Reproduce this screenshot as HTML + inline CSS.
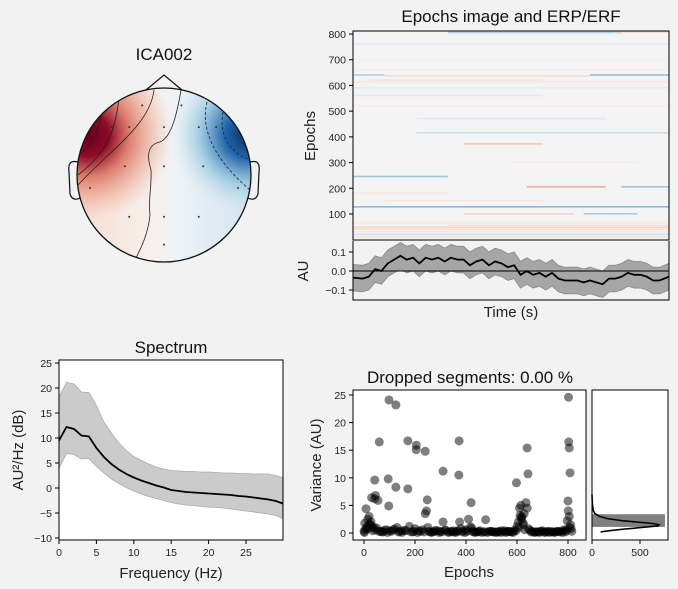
<!DOCTYPE html>
<html><head><meta charset="utf-8"><style>
html,body{margin:0;padding:0;background:#f2f2f2;}
svg{display:block;font-family:"Liberation Sans","DejaVu Sans",sans-serif;}
.t{font-size:10.5px;fill:#222;}
.lab{font-size:15px;fill:#222;}
.ttl{font-size:17px;fill:#111;}
</style></head><body>
<svg id="fig" width="678" height="589" viewBox="0 0 678 589">
<defs>
<clipPath id="headClip"><circle cx="164" cy="175" r="87"/></clipPath>
<linearGradient id="lrGrad" x1="0" y1="0" x2="1" y2="0">
<stop offset="0" stop-color="#f8ddd0"/><stop offset="0.45" stop-color="#f6f0ee"/><stop offset="0.55" stop-color="#eef3f6"/><stop offset="1" stop-color="#cfe2ee"/></linearGradient>
<radialGradient id="redBlob" cx="88" cy="135" r="85" gradientUnits="userSpaceOnUse">
<stop offset="0" stop-color="#67001f"/><stop offset="0.25" stop-color="#8e0a25"/><stop offset="0.5" stop-color="#d6604d" stop-opacity="0.75"/><stop offset="1" stop-color="#f4a582" stop-opacity="0"/></radialGradient>
<radialGradient id="blueBlob" cx="248" cy="135" r="78" gradientUnits="userSpaceOnUse">
<stop offset="0" stop-color="#053061"/><stop offset="0.3" stop-color="#2166ac"/><stop offset="0.65" stop-color="#92c5de" stop-opacity="0.7"/><stop offset="1" stop-color="#d1e5f0" stop-opacity="0"/></radialGradient>
</defs>

<g>
<text class="ttl" x="164" y="60" text-anchor="middle">ICA002</text>
<g clip-path="url(#headClip)">
<rect x="70" y="80" width="190" height="190" fill="url(#lrGrad)"/>
<rect x="70" y="80" width="190" height="190" fill="url(#redBlob)"/>
<rect x="70" y="80" width="190" height="190" fill="url(#blueBlob)"/>
<g fill="none" stroke="#222" stroke-width="0.8">
<path d="M120,92 C115,130 110,150 78,175"/>
<path d="M103,100 C100,130 95,145 78,155"/>
<path d="M93,112 C90,130 85,138 78,142"/>
<path d="M154,90 C150,125 110,150 78,185"/>
<path d="M181,90 C176,120 170,138 160,142 C145,145 148,160 151,170 C152,185 148,200 150,215 C148,235 140,250 135,260"/>
</g>
<g fill="none" stroke="#222" stroke-width="0.8" stroke-dasharray="3,2">
<path d="M207,102 C200,130 215,160 250,190"/>
<path d="M223,112 C218,140 235,155 250,160"/>
</g>
</g>
<circle cx="164" cy="175" r="87" fill="none" stroke="#111" stroke-width="1.3"/>
<path d="M146,90 L164,75 L182,90" fill="none" stroke="#111" stroke-width="1.2"/>
<path d="M78,162 C70,160 68,164 69,172 L70,194 C72,200 76,200 80,198" fill="none" stroke="#111" stroke-width="1.2"/>
<path d="M250,162 C258,160 260,164 259,172 L258,194 C256,200 252,200 248,198" fill="none" stroke="#111" stroke-width="1.2"/>
<g id="sensors" fill="#333"></g>
</g>

<g>
<text class="ttl" x="511" y="22" text-anchor="middle">Epochs image and ERP/ERF</text>
<rect x="353" y="31" width="316" height="209" fill="#f4f4f5"/>
<g id="stripes"></g>
<rect x="353" y="31" width="316" height="209" fill="none" stroke="#000" stroke-width="1"/>
<g id="imgTicks"></g>
<text class="lab" transform="translate(315,136) rotate(-90)" text-anchor="middle">Epochs</text>
</g>

<g>
<rect x="353" y="241" width="316" height="59" fill="#f2f2f2"/>
<path id="erpBand" fill="#a6a6a6" stroke="#888" stroke-width="0.8"/>
<line x1="353" x2="669" y1="271" y2="271" stroke="#000" stroke-width="1"/>
<path id="erpLine" fill="none" stroke="#000" stroke-width="1.8"/>
<path d="M353,241 V300 H669 V241" fill="none" stroke="#000" stroke-width="1"/>
<g id="erpTicks"></g>
<text class="lab" transform="translate(308,271) rotate(-90)" text-anchor="middle">AU</text>
<text class="lab" x="511" y="317" text-anchor="middle">Time (s)</text>
</g>

<g>
<text class="ttl" x="171" y="353" text-anchor="middle">Spectrum</text>
<rect x="59" y="360" width="224" height="180" fill="#fff"/>
<path id="specBand" fill="#cbcbcb" stroke="#aaa" stroke-width="0.8"/>
<path id="specLine" fill="none" stroke="#000" stroke-width="1.8"/>
<rect x="59" y="360" width="224" height="180" fill="none" stroke="#000" stroke-width="1"/>
<g id="specTicks"></g>
<text class="lab" transform="translate(23,450) rotate(-90)" text-anchor="middle">AU²/Hz (dB)</text>
<text class="lab" x="171" y="578" text-anchor="middle">Frequency (Hz)</text>
</g>

<g>
<text class="ttl" x="470" y="383" text-anchor="middle">Dropped segments: 0.00 %</text>
<rect x="353" y="390" width="233" height="150" fill="#fff"/>
<g id="scatter"></g>
<rect x="353" y="390" width="233" height="150" fill="none" stroke="#000" stroke-width="1"/>
<g id="scTicks"></g>
<text class="lab" transform="translate(321,465) rotate(-90)" text-anchor="middle">Variance (AU)</text>
<text class="lab" x="469" y="577" text-anchor="middle">Epochs</text>
<rect x="592" y="390" width="76" height="150" fill="#fff"/>
<g id="hist"></g>
<rect x="592" y="390" width="76" height="150" fill="none" stroke="#000" stroke-width="1"/>
<g id="hTicks"></g>
</g>
</svg>
<script>
const sensorX = [-0.25,0.2,-0.6,-0.4,0.0,0.4,0.6,-0.45,0.0,0.45,-0.85,0.85,-0.4,0.0,0.4,0.0];
const sensorY = [0.8,0.8,0.55,0.55,0.55,0.55,0.55,0.1,0.1,0.1,-0.15,-0.15,-0.48,-0.48,-0.48,-0.8];

const stripeEpoch = [127,100,100,205,205,245,372,415,520,560,612,620,636,640,640,700,760,805,808,40,48,55,20,10,300,470,180,150,30,65,590,660];
const stripeT0 =    [0,0.35,0.73,0.55,0.85,0,0.35,0.2,0,0,0,0.05,0.1,0.75,0,0,0,0.3,0.82,0,0,0.3,0,0,0.5,0.2,0,0.1,0,0,0,0];
const stripeT1 =    [1,0.7,0.9,0.8,1,0.3,0.6,1,1,0.6,1,0.6,0.75,1,0.1,1,1,0.85,1,1,1,1,1,1,0.9,0.8,0.3,0.6,1,1,1,1];
const stripeVal =   [-0.3,0.22,-0.22,0.45,-0.25,-0.25,0.3,-0.13,0.06,-0.06,0.08,0.12,0.18,-0.28,-0.2,0.05,-0.05,-0.2,0.22,0.15,0.2,0.12,-0.1,0.12,0.06,-0.06,0.08,0.08,0.1,0.08,-0.05,0.05];
const imgTickVals = [100,200,300,400,500,600,700,800];

const erpT =    [0,0.03,0.05,0.07,0.09,0.11,0.13,0.15,0.17,0.19,0.21,0.23,0.25,0.27,0.29,0.31,0.33,0.35,0.37,0.39,0.41,0.43,0.45,0.47,0.49,0.51,0.53,0.55,0.57,0.59,0.61,0.63,0.65,0.67,0.69,0.71,0.73,0.75,0.77,0.79,0.81,0.83,0.85,0.87,0.89,0.91,0.93,0.95,0.97,1.0];
const erpMean = [-0.035,-0.04,-0.03,0.01,0.0,0.04,0.06,0.08,0.06,0.07,0.04,0.07,0.06,0.07,0.05,0.07,0.06,0.06,0.03,0.05,0.06,0.03,0.05,0.04,0.02,0.03,-0.02,0.0,-0.02,-0.01,-0.03,-0.01,-0.04,-0.05,-0.05,-0.05,-0.06,-0.05,-0.06,-0.07,-0.04,-0.04,-0.03,-0.01,-0.02,-0.02,-0.03,-0.05,-0.05,-0.03];
const erpHalfWidth = 0.07;
const erpTickVals = [-0.1,0.0,0.1];

const specFreq = [0,1,2,3,4,5,6,7,8,9,10,11,12,13,14,15,16,17,18,19,20,21,22,23,24,25,26,27,28,29,29.9];
const specMean = [9.5,12.2,11.8,10.5,10.3,8,6.2,4.8,3.7,2.8,2.1,1.5,1.0,0.5,0.1,-0.4,-0.6,-0.8,-0.9,-1.0,-1.1,-1.2,-1.3,-1.4,-1.6,-1.7,-1.9,-2.1,-2.3,-2.6,-3.1];
const specUpper = [18.2,21.1,20.8,19.2,19.1,16.5,13.2,11,9,7.5,6.3,5.5,4.8,4.2,3.8,3.5,3.4,3.3,3.3,3.2,3.2,3.1,3.0,3.0,2.9,2.9,2.8,2.8,2.8,2.5,2.1];
const specLower = [3.9,6.9,6.7,5.8,5.9,4.3,3,1.8,0.9,0.1,-0.6,-1.2,-1.7,-2.1,-2.5,-2.9,-3.2,-3.4,-3.5,-3.7,-3.8,-3.9,-4.0,-4.2,-4.4,-4.6,-4.8,-5.0,-5.2,-5.5,-6.1];
const specYTicks = [-10,-5,0,5,10,15,20,25];
const specXTicks = [0,5,10,15,20,25];

const scEpoch = [98,125,60,172,205,205,240,373,310,372,598,640,643,802,803,805,808,42,95,125,172,97,248,420,477,30,42,45,55,8,20,245,240,375,310,610,615,620,635,640,800,801,805,
 0,5,12,18,25,35,50,65,80,100,115,140,160,185,200,215,230,255,270,290,320,340,355,390,400,410,425,440,455,490,510,530,550,570,590,605,625,650,660,680,700,720,740,760,780,795,810,
 3,15,28,38,70,88,130,150,195,260,280,300,330,350,365,380,430,450,470,500,520,540,560,580,600,615,630,670,690,710,730,750,770,790,812,
 2,10,22,32,45,58,75,92,108,120,135,148,165,178,192,210,222,236,250,264,277,295,305,318,332,346,360,368,385,396,405,418,422,436,448,462,475,485,497,505,518,527,537,548,557,566,575,585,596,607,612,618,624,628,645,655,668,677,688,697,708,717,727,738,748,757,768,778,787,797,806,815];
const scVar = [24.1,23.2,16.5,16.7,15.9,15.1,14.8,16.7,11.2,10.5,9.1,15.4,10.7,24.6,16.5,15.4,10.9,9.6,9.8,8.3,8.0,4.9,6.0,5.5,2.4,6.4,6.2,6.8,5.9,4.4,3.0,4.0,3.5,2.0,2.0,4.5,5.0,3.0,5.5,4.5,5.8,4.0,3.0,
 0.3,0.6,1.2,0.8,1.5,0.4,0.9,0.3,0.5,0.4,0.6,0.3,0.5,0.2,0.8,0.4,0.6,0.3,0.2,0.4,0.5,0.3,0.2,0.4,0.6,2.5,0.3,0.2,0.4,0.3,0.2,0.3,0.4,0.3,0.5,2.0,1.5,0.5,0.3,0.2,0.4,0.3,0.2,0.3,0.4,0.5,1.5,
 1.8,2.5,2.0,1.0,0.2,0.6,1.0,0.4,0.3,0.2,0.5,0.3,0.2,0.4,0.3,0.8,0.2,0.3,0.2,0.3,0.2,0.4,0.3,0.2,1.2,2.8,0.6,0.2,0.3,0.2,0.3,0.2,0.3,0.2,0.8,
 0.1,0.9,1.6,1.1,0.6,0.3,0.2,0.1,0.3,0.7,0.2,0.1,0.4,1.2,0.2,0.1,0.3,0.2,1.0,0.1,0.3,0.1,0.2,0.5,0.1,0.2,0.1,0.4,0.2,0.1,0.3,1.1,0.9,0.1,0.2,0.1,0.2,0.1,0.3,0.2,0.1,0.2,0.1,0.2,0.1,0.3,0.2,0.1,0.4,1.0,3.2,2.5,1.8,3.5,0.8,0.2,0.1,0.2,0.1,0.3,0.1,0.2,0.1,0.2,0.1,0.3,0.2,0.1,0.6,2.2,1.0,0.3];
const scYTicks = [0,5,10,15,20,25];
const scXTicks = [0,200,400,600,800];

const histBinLo = [1.1];
const histBinHi = [3.4];
const histCount = [760];
const kdeVar =   [7.0,6.0,5.0,4.0,3.5,3.0,2.6,2.2,1.9,1.7,1.5,1.3,1.0,0.7,0.4,0.2];
const kdeCount = [0,2,5,15,30,80,160,330,520,640,700,690,520,330,170,90];
const histXTicks = [0,500];

const NS = "http://www.w3.org/2000/svg";
function mk(tag, attrs, parent){const e=document.createElementNS(NS,tag);for(const k in attrs)e.setAttribute(k,attrs[k]);parent.appendChild(e);return e;}
function tickText(parent,x,y,str,anchor){const t=mk("text",{x:x,y:y,"text-anchor":anchor,class:"t"},parent);t.textContent=str;
 
 
 return t;}
function rdbu(v){const stops=[[-1,[5,48,97]],[-0.5,[67,147,195]],[0,[246,246,247]],[0.5,[244,165,130]],[1,[103,0,31]]];
 v=Math.max(-1,Math.min(1,v));for(let i=0;i<4;i++){const a=stops[i],b=stops[i+1];if(v<=b[0]){const f=(v-a[0])/(b[0]-a[0]);return "rgb("+a[1].map((c,j)=>Math.round(c+(b[1][j]-c)*f)).join(",")+")";}}return "rgb(103,0,31)";}

const sg=document.getElementById("sensors");
for(let i=0;i<sensorX.length;i++){const c=mk("circle",{cx:164+sensorX[i]*87,cy:175-sensorY[i]*87,r:1},sg);
 
 }

const imX=f=>353+f*316, imY=e=>239.7-e*0.2571;
const stG=document.getElementById("stripes");
for(let i=0;i<stripeEpoch.length;i++){const r=mk("rect",{x:imX(stripeT0[i]),y:imY(stripeEpoch[i])-1,width:imX(stripeT1[i])-imX(stripeT0[i]),height:1.6,fill:rdbu(stripeVal[i])},stG);
 
 }
const itg=document.getElementById("imgTicks");
imgTickVals.forEach(v=>{mk("line",{x1:349,x2:353,y1:imY(v),y2:imY(v),stroke:"#000"},itg);tickText(itg,346,imY(v)+4,String(v),"end");});

const eX=f=>353+f*316, eY=v=>271-v*190;
let up="",lo="",ln="";
erpT.forEach((t,i)=>{up+=(i?"L":"M")+eX(t)+","+eY(erpMean[i]+erpHalfWidth);ln+=(i?"L":"M")+eX(t)+","+eY(erpMean[i]);});
for(let i=erpT.length-1;i>=0;i--)lo+="L"+eX(erpT[i])+","+eY(erpMean[i]-erpHalfWidth);
document.getElementById("erpBand").setAttribute("d",up+lo+"Z");
document.getElementById("erpLine").setAttribute("d",ln);
const etg=document.getElementById("erpTicks");
erpTickVals.forEach(v=>{mk("line",{x1:349,x2:353,y1:eY(v),y2:eY(v),stroke:"#000"},etg);tickText(etg,346,eY(v)+4,(v<0?"\u2212":"")+Math.abs(v).toFixed(1),"end");});

const sX=f=>59+f*7.48, sY=v=>538-(v+10)*5;
let su="",sl="",sm="";
specFreq.forEach((f,i)=>{su+=(i?"L":"M")+sX(f)+","+sY(specUpper[i]);sm+=(i?"L":"M")+sX(f)+","+sY(specMean[i]);});
for(let i=specFreq.length-1;i>=0;i--)sl+="L"+sX(specFreq[i])+","+sY(specLower[i]);
document.getElementById("specBand").setAttribute("d",su+sl+"Z");
document.getElementById("specLine").setAttribute("d",sm);
const stg=document.getElementById("specTicks");
specYTicks.forEach(v=>{mk("line",{x1:55,x2:59,y1:sY(v),y2:sY(v),stroke:"#000"},stg);tickText(stg,52,sY(v)+4,(v<0?"\u2212":"")+Math.abs(v),"end");});
specXTicks.forEach(v=>{mk("line",{x1:sX(v),x2:sX(v),y1:540,y2:544,stroke:"#000"},stg);tickText(stg,sX(v),556,String(v),"middle");});

const cX=e=>364+e*0.255, cY=v=>533-v*5.52;
const scg=document.getElementById("scatter");
for(let i=0;i<scEpoch.length;i++){const c=mk("circle",{cx:cX(scEpoch[i]),cy:cY(scVar[i]),r:4.5,fill:"#000","fill-opacity":0.5},scg);
 
 }
const sct=document.getElementById("scTicks");
scYTicks.forEach(v=>{mk("line",{x1:349,x2:353,y1:cY(v),y2:cY(v),stroke:"#000"},sct);tickText(sct,346,cY(v)+4,String(v),"end");});
scXTicks.forEach(v=>{mk("line",{x1:cX(v),x2:cX(v),y1:540,y2:544,stroke:"#000"},sct);tickText(sct,cX(v),556,String(v),"middle");});

const hX=c=>592+c*0.096;
const hg=document.getElementById("hist");
for(let i=0;i<histCount.length;i++){const r=mk("rect",{x:592,y:cY(histBinHi[i]),width:hX(histCount[i])-592,height:cY(histBinLo[i])-cY(histBinHi[i]),fill:"#808080"},hg);
 
 }
let kd="";kdeVar.forEach((v,i)=>{kd+=(i?"L":"M")+hX(kdeCount[i])+","+cY(v);});
const kp=mk("path",{d:kd,fill:"none",stroke:"#000","stroke-width":1.6},hg);


const htg=document.getElementById("hTicks");
histXTicks.forEach(v=>{mk("line",{x1:hX(v),x2:hX(v),y1:540,y2:544,stroke:"#000"},htg);tickText(htg,hX(v),556,String(v),"middle");});
</script>
</body></html>
